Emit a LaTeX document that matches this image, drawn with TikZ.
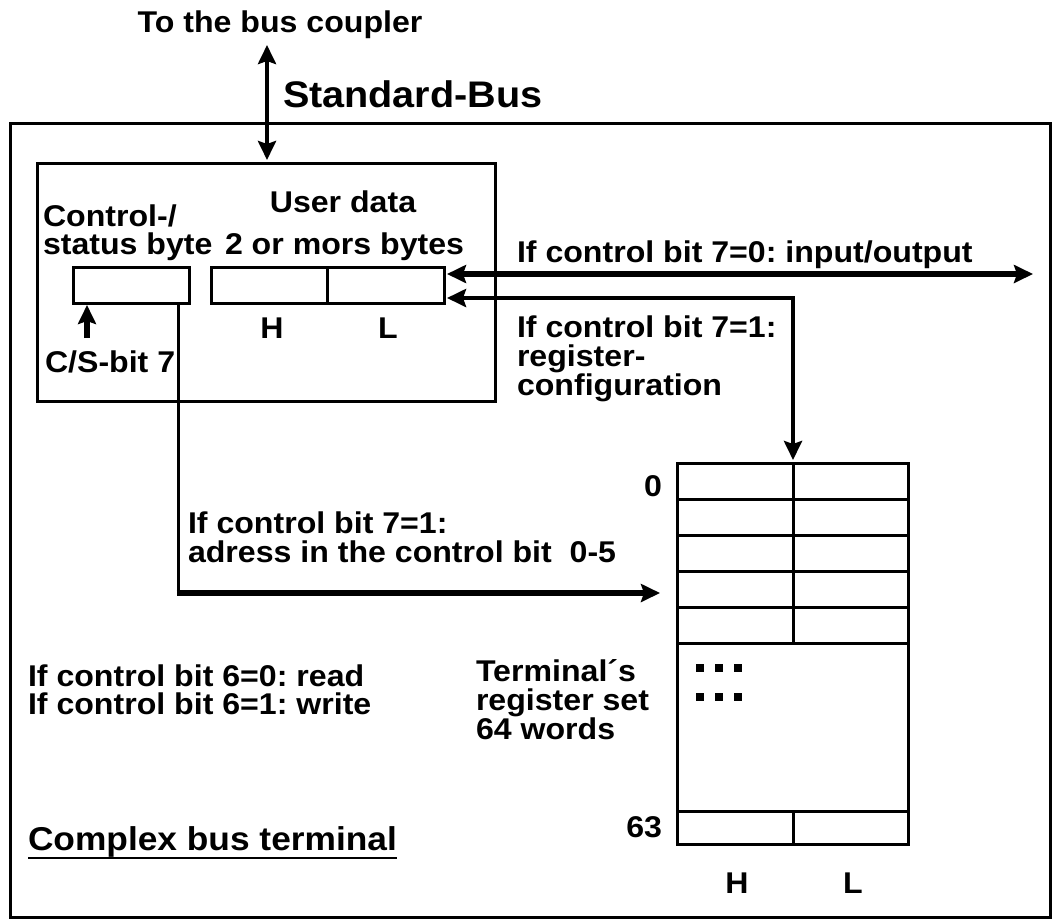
\documentclass[tikz,border=0pt]{standalone}
\usepackage{fontspec}
\setmainfont{Liberation Sans}[FakeStretch=1.07]
\usetikzlibrary{arrows.meta}
\frenchspacing
\begin{document}
\begin{tikzpicture}[x=1pt,y=-1pt,
  box/.style={draw, line width=3pt, inner sep=0pt, outer sep=0pt},
  cell/.style={box, minimum height=36pt},
  lbl/.style={inner sep=0pt, outer sep=0pt, font=\fontsize{30}{29}\selectfont\bfseries},
  arr/.style={line width=5.5pt, -{Stealth[length=19pt,width=18pt,inset=3pt]}},
  arrboth/.style={line width=5.5pt, {Stealth[length=19pt,width=18pt,inset=3pt]}-{Stealth[length=19pt,width=18pt,inset=3pt]}},
  dotbox/.style={fill, inner sep=0pt, minimum size=8pt}]
\useasboundingbox (0,0) rectangle (1056,919);

% boxes
\node[box, minimum width=1040pt, minimum height=794pt] (outer) at (530,520) {};
\node[box, minimum width=458pt, minimum height=238pt] (inner) at (266,282) {};
\node[box, minimum width=116pt, minimum height=36pt] (ctrl) at (131,285) {};
\node[box, minimum width=116pt, minimum height=36pt] (cellH) at (269,285) {};
\node[box, minimum width=117pt, minimum height=36pt] (cellL) at (385.5,285) {};

% register set
\foreach \i/\y in {0/481,1/517,2/553,3/589,4/625} {
  \node[cell, minimum width=116pt] (rL\i) at (735,\y) {};
  \node[cell, minimum width=115pt] (rR\i) at (850.5,\y) {};
}
\node[box, minimum width=231pt, minimum height=168pt] (rbig) at (792.5,727) {};
\node[box, minimum width=116pt, minimum height=33pt] (rL63) at (735,827.5) {};
\node[box, minimum width=115pt, minimum height=33pt] (rR63) at (850.5,827.5) {};

% dots
\foreach \x in {700,719,738} {
  \foreach \y in {668,697} {
    \node[dotbox] at (\x,\y) {};
  }
}

% texts
\node[lbl, anchor=base] (coupler) at (280,32) {To the bus coupler};
\node[lbl, anchor=base west, font=\fontsize{37}{36}\selectfont\bfseries] (stdbus) at (283,107) {Standard-Bus};
\node[lbl, anchor=base west] (ctl1) at (43,226) {Control-/};
\node[lbl, anchor=base west] (ctl2) at (43,254) {status byte};
\node[lbl, anchor=base] (ud1) at (343,212) {User data};
\node[lbl, anchor=base west] (ud2) at (225,254) {2 or mors bytes};
\node[lbl, anchor=base] (h1) at (272,338) {H};
\node[lbl, anchor=base] (l1) at (388,338) {L};
\node[lbl, anchor=base west] (csbit) at (45,372) {C/S-bit 7};
\node[lbl, anchor=base west] (io) at (517,262) {If control bit 7=0: input/output};
\node[lbl, anchor=base west] (rc1) at (517,337) {If control bit 7=1:};
\node[lbl, anchor=base west] (rc2) at (517,366) {register-};
\node[lbl, anchor=base west] (rc3) at (517,395) {configuration};
\node[lbl, anchor=base west] (ad1) at (188,533) {If control bit 7=1:};
\node[lbl, anchor=base west] (ad2) at (188,562) {adress in the control bit\ \ 0-5};
\node[lbl, anchor=base west] (rw1) at (28,686) {If control bit 6=0: read};
\node[lbl, anchor=base west] (rw2) at (28,714) {If control bit 6=1: write};
\node[lbl, anchor=base west] (trs1) at (476,681) {Terminal´s};
\node[lbl, anchor=base west] (trs2) at (476,710) {register set};
\node[lbl, anchor=base west] (trs3) at (476,739) {64 words};
\node[lbl, anchor=base west, font=\fontsize{33}{32}\selectfont\bfseries] (cbt) at (28,850) {Complex bus terminal};
\draw[line width=2.8pt] ([yshift=-8pt]cbt.base west) -- ([yshift=-8pt]cbt.base east);
\node[lbl, anchor=base east] (n0) at (662,496) {0};
\node[lbl, anchor=base east] (n63) at (662,837) {63};
\node[lbl, anchor=base] (h2) at (737,893) {H};
\node[lbl, anchor=base] (l2) at (853,893) {L};

% connectors
\coordinate (busTop) at (267,45);
\draw[arrboth, line width=4.5pt, shorten >=3pt] (busTop) -- (busTop |- inner.north);
\coordinate (ioEnd) at (1033,274);
\draw[arrboth] ([shift={(3,-11)}]cellL.east) -- (ioEnd);
\draw[arrboth, line width=4.5pt] ([shift={(3,13)}]cellL.east) -| ([shift={(0,-3)}]rL0.north east);
\coordinate (addrCorner) at (178,593);
\coordinate (addrEnd) at (660,593);
\draw[line width=3pt] ([xshift=-11pt]ctrl.south east) -- (addrCorner);
\draw[arr] ([xshift=-1.5pt]addrCorner) -- (addrEnd);
\coordinate (csStart) at (87,338);
\draw[arr, shorten >=2pt] (csStart) -- (csStart |- ctrl.south);
\end{tikzpicture}
\end{document}
